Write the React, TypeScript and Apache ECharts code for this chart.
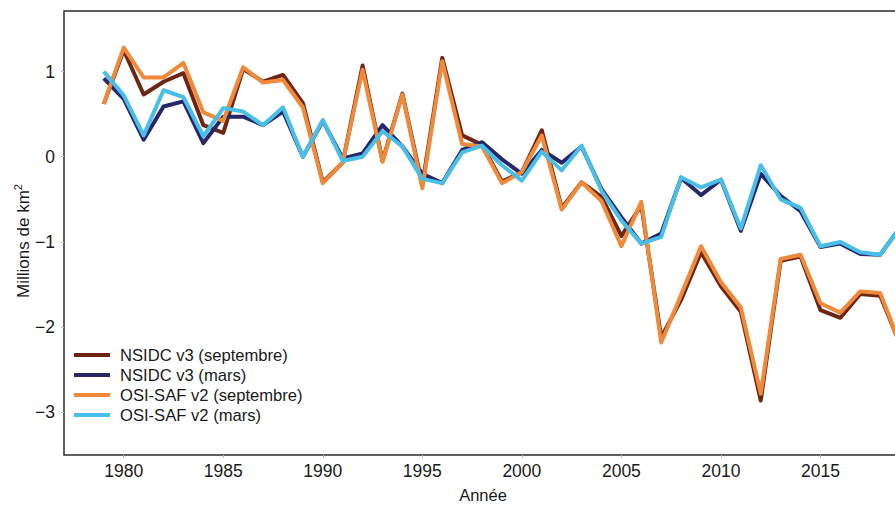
import React, { useEffect, useRef } from "react";
import * as echarts from "echarts";

// Sea-ice extent anomalies (millions of km²), 1979–2019
const years = [
  1979, 1980, 1981, 1982, 1983, 1984, 1985, 1986, 1987, 1988,
  1989, 1990, 1991, 1992, 1993, 1994, 1995, 1996, 1997, 1998,
  1999, 2000, 2001, 2002, 2003, 2004, 2005, 2006, 2007, 2008,
  2009, 2010, 2011, 2012, 2013, 2014, 2015, 2016, 2017, 2018,
  2019,
];

const nsidcSept = [
  0.62, 1.25, 0.73, 0.88, 0.98, 0.37, 0.28, 1.03, 0.88, 0.96,
  0.63, -0.3, -0.07, 1.07, -0.05, 0.74, -0.33, 1.16, 0.25, 0.14,
  -0.29, -0.18, 0.31, -0.6, -0.3, -0.47, -0.93, -0.57, -2.12, -1.68,
  -1.12, -1.52, -1.82, -2.86, -1.22, -1.17, -1.8, -1.89, -1.61, -1.63,
  -2.2,
];

const nsidcMars = [
  0.92, 0.68, 0.2, 0.59, 0.65, 0.16, 0.47, 0.47, 0.37, 0.53,
  0.0, 0.42, -0.02, 0.04, 0.37, 0.12, -0.2, -0.31, 0.08, 0.17,
  -0.03, -0.2, 0.08, -0.07, 0.12, -0.38, -0.71, -1.02, -0.9, -0.25,
  -0.45, -0.27, -0.87, -0.2, -0.46, -0.64, -1.06, -1.02, -1.14, -1.15,
  -0.83,
];

const osiSept = [
  0.62, 1.28, 0.93, 0.93, 1.1, 0.52, 0.42, 1.05, 0.87, 0.9,
  0.58, -0.31, -0.07, 1.02, -0.06, 0.73, -0.37, 1.12, 0.15, 0.12,
  -0.31, -0.18, 0.25, -0.62, -0.3, -0.52, -1.05, -0.53, -2.18, -1.62,
  -1.05, -1.47, -1.77, -2.78, -1.2, -1.15, -1.72, -1.83, -1.58, -1.6,
  -2.2,
];

const osiMars = [
  1.0, 0.72, 0.25, 0.78, 0.7, 0.24, 0.57, 0.53, 0.37, 0.58,
  0.0, 0.43, -0.05, 0.0, 0.3, 0.12, -0.26, -0.31, 0.05, 0.13,
  -0.1, -0.28, 0.06, -0.16, 0.13, -0.4, -0.75, -1.02, -0.94, -0.24,
  -0.36, -0.27, -0.84, -0.1, -0.5, -0.6, -1.05, -1.0, -1.12, -1.15,
  -0.83,
];

const xTicks = [1980, 1985, 1990, 1995, 2000, 2005, 2010, 2015];
const yTicks = [-3, -2, -1, 0, 1];

const seriesNames = [
  "NSIDC v3 (septembre)",
  "NSIDC v3 (mars)",
  "OSI-SAF v2 (septembre)",
  "OSI-SAF v2 (mars)",
];
const seriesColors = ["#6e2614", "#272668", "#f08a3a", "#48bfe8"];
const seriesData = [nsidcSept, nsidcMars, osiSept, osiMars];

const FONT = "'Liberation Sans', Arial, Helvetica, sans-serif";

export default function App() {
  const ref = useRef<HTMLDivElement>(null);

  useEffect(() => {
    if (!ref.current) return;
    const chart = echarts.init(ref.current, null, { renderer: "svg" });

    const series = seriesNames.map((name, i) => ({
      name,
      type: "line",
      data: years.map((y, k) => [y, seriesData[i][k]]),
      showSymbol: false,
      symbol: "none",
      lineStyle: { width: 4, color: seriesColors[i], join: "round" },
      itemStyle: { color: seriesColors[i] },
      emphasis: { disabled: true },
    }));

    chart.setOption({
      animation: false,
      backgroundColor: "#ffffff",
      grid: {
        left: 64,
        top: 11,
        right: -25,
        bottom: 50,
        containLabel: false,
        outerBoundsMode: "none",
        show: true,
        borderColor: "#2b2b2b",
        borderWidth: 1.5,
        backgroundColor: "transparent",
      },
      xAxis: {
        type: "value",
        min: 1977,
        max: 2020,
        axisLine: { show: false, onZero: false },
        splitLine: { show: false },
        axisTick: {
          show: true,
          length: 3,
          lineStyle: { color: "#bdbdbd" },
          customValues: xTicks,
        },
        axisLabel: {
          customValues: xTicks,
          margin: 7,
          fontSize: 17.5,
          fontFamily: FONT,
          color: "#1a1a1a",
          formatter: (v: number) => String(v),
        },
      },
      yAxis: {
        type: "value",
        min: -3.5,
        max: 1.71,
        axisLine: { show: false, onZero: false },
        splitLine: { show: false },
        axisTick: {
          show: true,
          length: 3,
          lineStyle: { color: "#bdbdbd" },
          customValues: yTicks,
        },
        axisLabel: {
          customValues: yTicks,
          margin: 9,
          fontSize: 17.5,
          fontFamily: FONT,
          color: "#1a1a1a",
          formatter: (v: number) => String(v).replace("-", "\u2212"),
        },
      },
      legend: {
        orient: "vertical",
        left: 74,
        top: 345,
        padding: 0,
        itemGap: 0,
        itemWidth: 36,
        itemHeight: 4,
        icon: "rect",
        selectedMode: false,
        data: seriesNames,
        textStyle: {
          fontSize: 16.6,
          lineHeight: 20,
          fontFamily: FONT,
          color: "#1a1a1a",
          padding: [0, 0, 0, 5],
        },
      },
      graphic: [
        {
          type: "text",
          x: 483,
          y: 495,
          style: {
            text: "Année",
            fontSize: 16.5,
            fontFamily: FONT,
            fill: "#1a1a1a",
            align: "center",
            verticalAlign: "middle",
          },
        },
        {
          type: "text",
          x: 22,
          y: 241,
          rotation: Math.PI / 2,
          style: {
            text: "{a|Millions de km}{s|2}",
            fontFamily: FONT,
            fill: "#1a1a1a",
            align: "center",
            verticalAlign: "middle",
            rich: {
              a: { fontSize: 17, fontFamily: FONT, fill: "#1a1a1a", lineHeight: 20, verticalAlign: "bottom" },
              s: { fontSize: 11, fontFamily: FONT, fill: "#1a1a1a", lineHeight: 20, verticalAlign: "top" },
            },
          },
        },
      ],
      series,
    });

    return () => chart.dispose();
  }, []);

  return (
    <div
      ref={ref}
      style={{ position: "fixed", left: 0, top: 0, width: 895, height: 505 }}
    />
  );
}
